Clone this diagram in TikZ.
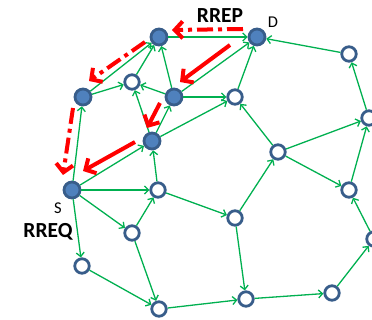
\documentclass[tikz,border=0pt]{standalone}
\usepackage{fontspec}
\setmainfont{Carlito}
\usetikzlibrary{arrows.meta}

\definecolor{linkgreen}{RGB}{0,176,80}
\definecolor{nodeblue}{RGB}{79,129,189}
\definecolor{rimblue}{RGB}{56,93,138}

\tikzset{
    host/.style={circle, draw=rimblue, line width=2.8pt, fill=white, minimum size=14.5pt, inner sep=0pt},
    hop/.style={host, fill=nodeblue, minimum size=16pt},
    link/.style={draw=linkgreen, line width=1.3pt, -{Straight Barb[length=4pt,width=8pt]}},
    replypath/.style={draw=red, line width=4pt, dash pattern=on 16pt off 5pt on 4pt off 5pt, -{Straight Barb[length=8pt,width=17pt]}},
    bestpath/.style={draw=red, line width=4pt, -{Straight Barb[length=8pt,width=17pt]}},
    tag/.style={font=\fontsize{16.5}{18}\selectfont},
    bigtag/.style={font=\fontsize{21.5}{24}\selectfont\bfseries}
}

\begin{document}
\begin{tikzpicture}[x=1pt, y=-1pt]
        \useasboundingbox (0,0) rectangle (372,320);

        % nodes on the route
        \node[hop] (src) at (72,190) {};
        \node[hop] (dst) at (257,37) {};
        \node[hop] (r1) at (83,97) {};
        \node[hop] (r2) at (159,37) {};
        \node[hop] (r3) at (174,97) {};
        \node[hop] (r4) at (152,141) {};

        % other nodes
        \foreach \name/\x/\y in {m1/132/82, m2/235/97, m3/349/54, m4/369/118,
                m5/278/152, m6/158/190, m7/349/190, m8/132/233, m9/235/218,
                m10/374/239, m11/82/266, m12/159/309, m13/246/299, m14/332/293}
            \node[host] (\name) at (\x,\y) {};

        % links
        \foreach \a/\b in {r1/r2, r1/m1, m1/r2, r3/r2, r3/m1, r4/m1, r4/r3,
                src/r1, src/r4, m6/r4, r2/dst, r3/dst, r4/m2, r3/m2, m2/dst,
                m3/dst, m4/m3, m5/m2, m5/m4, m5/m7, m7/m4, m9/m5, m6/m9,
                m8/m6, src/m6, src/m8, src/m11, m11/m12, m8/m12, m12/m13,
                m9/m13, m13/m14, m14/m10, m10/m7}
            \draw[link] (\a) -- (\b);

        \node[tag] (dlabel) at (273,22) {D};
        \node[tag] (slabel) at (58,208) {S};
        \node[bigtag] (rrep) at (220,16) {RREP};
        \node[bigtag] (rreq) at (48,232) {RREQ};

        % red arrows
        \coordinate (p1) at (243,29);
        \coordinate (p2) at (172,30);
        \coordinate (p3) at (145,42);
        \coordinate (p4) at (89,81);
        \coordinate (p5) at (73,108);
        \coordinate (p6) at (63,175);
        \draw[replypath] (p1) -- (p2);
        \draw[replypath] (p3) -- (p4);
        \draw[replypath] (p5) -- (p6);

        \coordinate (q1) at (230,45);
        \coordinate (q2) at (180,82);
        \coordinate (q3) at (160,103);
        \coordinate (q4) at (147,128);
        \coordinate (q5) at (135,142);
        \coordinate (q6) at (83,171);
        \draw[bestpath] (q1) -- (q2);
        \draw[bestpath] (q3) -- (q4);
        \draw[bestpath] (q5) -- (q6);
    \end{tikzpicture}
\end{document}
